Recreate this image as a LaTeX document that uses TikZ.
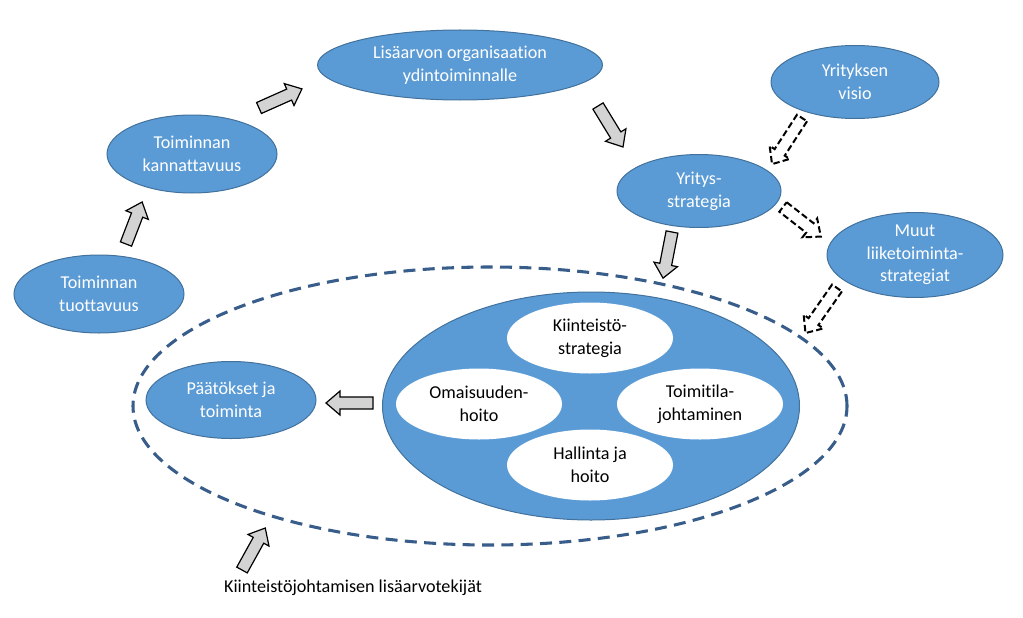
\documentclass[tikz,border=0pt]{standalone}
\usepackage{fontspec}
\setmainfont{Carlito}[Ligatures={NoCommon}]
\usetikzlibrary{shapes.geometric}
\definecolor{ellblue}{HTML}{5B9BD5}
\definecolor{ellborder}{HTML}{41719C}
\definecolor{dashblue}{HTML}{385D8A}
\definecolor{arrgray}{HTML}{D3D3D3}
\newcommand\barrow[5][]{%
  \begin{scope}[shift={(#2,#3)}, rotate=#4]
    \draw[#1] (0,-6) -- ({#5-14},-6) -- ({#5-14},-12) -- (#5,0) -- ({#5-14},12) -- ({#5-14},6) -- (0,6) -- cycle;
  \end{scope}}
\begin{document}
\begin{tikzpicture}[x=0.75pt,y=-0.75pt,
  txt/.style={font=\fontsize{13.6}{17}\selectfont, align=center},
  blueell/.style 2 args={ellipse, draw=ellborder, line width=0.75pt, fill=ellblue, text=white, txt, inner sep=0pt,
     minimum width={#1*0.75pt}, minimum height={#2*0.75pt}},
  whiteell/.style={ellipse, fill=white, text=black, txt, inner sep=0pt,
     minimum width={166*0.75pt}, minimum height={71*0.75pt}},
  grayarr/.style={draw=black, line width=0.9pt, fill=arrgray, line join=miter},
  dasharr/.style={draw=black, line width=1.5pt, fill=white, dash pattern=on 4.8pt off 2.4pt, line join=miter}]
\useasboundingbox (0,0) rectangle (1023,617);
% dashed outer ellipse
\node[ellipse, draw=dashblue, line width=2.3pt, dash pattern=on 9pt off 5.5pt, minimum width={714*0.75pt}, minimum height={278*0.75pt}, inner sep=0pt] (outer) at (490,406) {};
% blue ellipses
\node[blueell={170}{78}] (tuot) at (99,294) {Toiminnan\\tuottavuus};
\node[blueell={170}{78}] (kann) at (192,154) {Toiminnan\\kannattavuus};
\node[blueell={285}{70}] (lisa) at (460,65) {Lisäarvon organisaation\\ydintoiminnalle};
\node[blueell={168}{73}] (visio) at (855,82) {Yrityksen\\visio};
\node[blueell={164}{73}] (yrit) at (699,191) {Yritys-\\strategia};
\node[blueell={176}{83}] (muut) at (915,255) {Muut\\liiketoiminta-\\strategiat};
\node[blueell={170}{77}] (paat) at (231,400) {Päätökset ja\\toiminta};
\node[blueell={417}{228}] (big) at (591,406) {};
% white ellipses
\node[whiteell] (kiin) at (590,338) {Kiinteistö-\\strategia};
\node[whiteell] (omai) at (479,404) {Omaisuuden-\\hoito};
\node[whiteell] (toim) at (700,404) {Toimitila-\\johtaminen};
\node[whiteell] (hall) at (590,465) {Hallinta ja\\hoito};
% label
\node[txt, text=black] (lab) at (353,588) {Kiinteistöjohtamisen lisäarvotekijät};
% block arrows
\barrow[grayarr]{126}{244}{69}{45}
\barrow[grayarr]{259}{108}{24}{47}
\barrow[grayarr]{598}{106}{-58.6}{48}
\barrow[grayarr]{672}{232}{-101}{47}
\barrow[grayarr]{373}{403}{180}{47}
\barrow[grayarr]{242}{570}{61}{48}
\barrow[dasharr]{802}{118}{-123}{55}
\barrow[dasharr]{783}{207}{-38}{48}
\barrow[dasharr]{837}{288}{-125}{55}
\end{tikzpicture}
\end{document}
